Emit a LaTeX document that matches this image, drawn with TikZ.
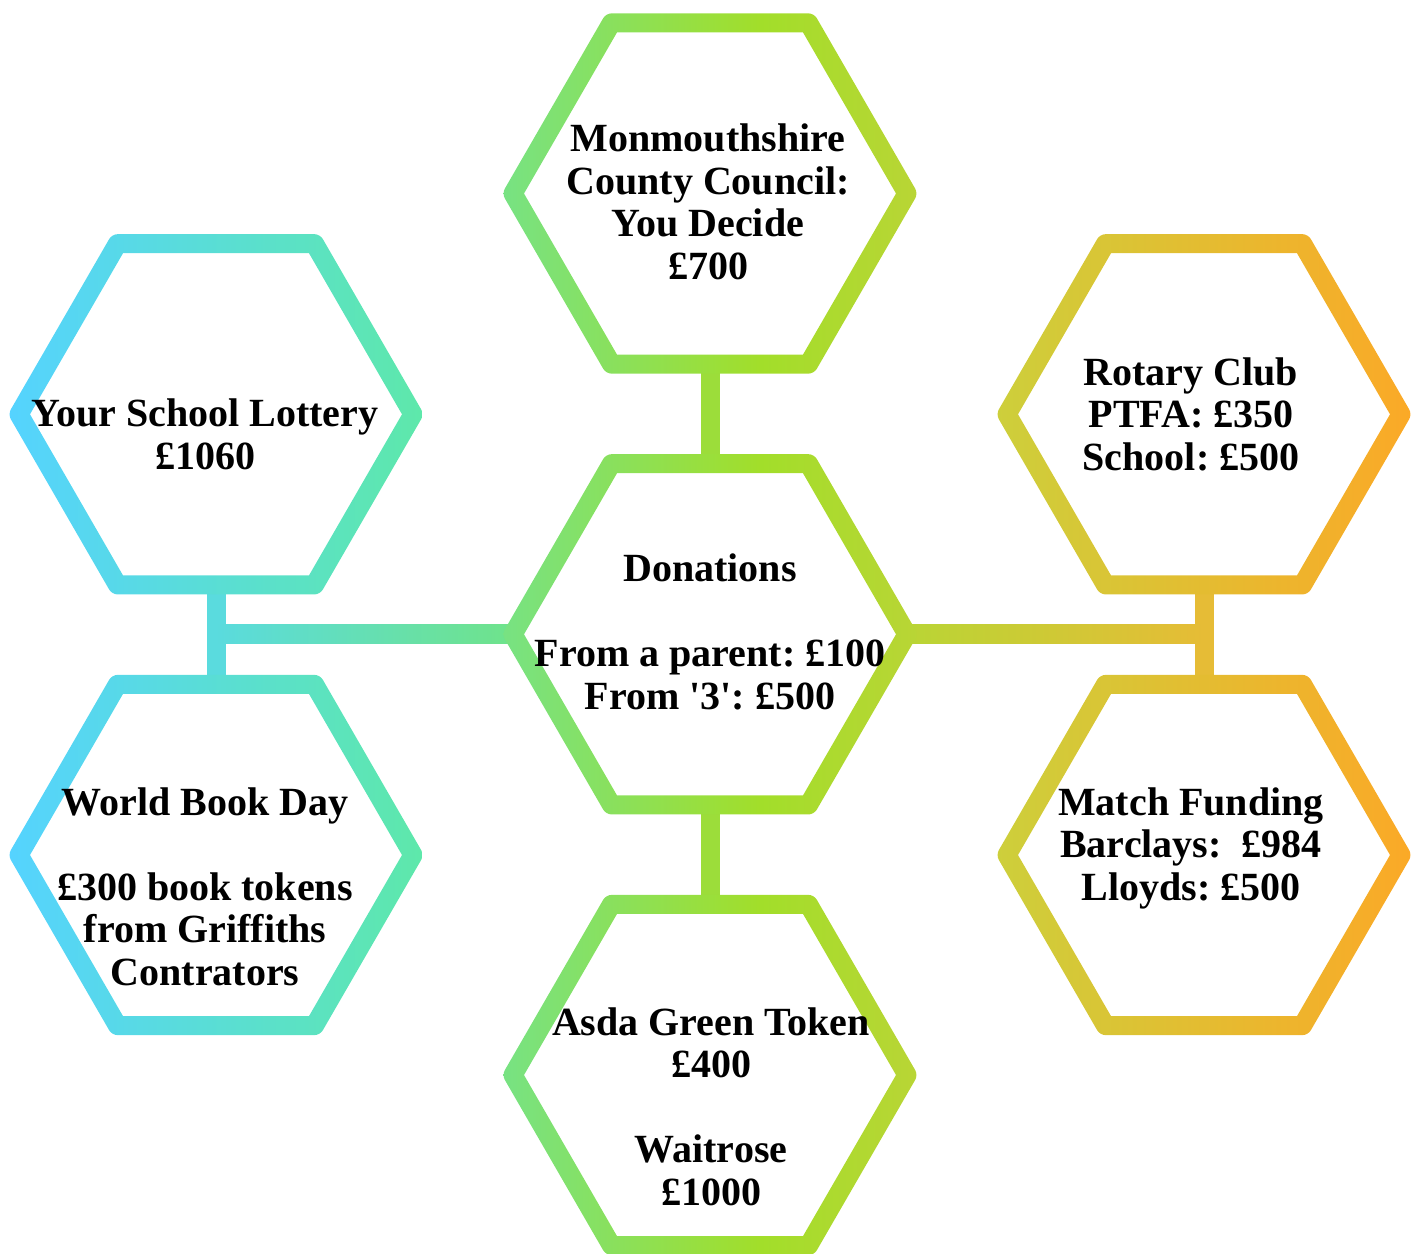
\documentclass[tikz,border=0pt]{standalone}
\usepackage{fontspec}
\setmainfont{Liberation Serif}
\usetikzlibrary{shapes.geometric,calc}

\definecolor{skyL}{HTML}{55D3FF}
\definecolor{skyR}{HTML}{5EE8AA}
\definecolor{skyLink}{HTML}{5ADBDE}
\definecolor{skyEnd}{HTML}{6FE38A}
\definecolor{limeL}{HTML}{77E283}
\definecolor{limeM}{HTML}{A2DE2A}
\definecolor{limeR}{HTML}{B9D535}
\definecolor{limeLink}{HTML}{9CDD3A}
\definecolor{amberL}{HTML}{CDCF3B}
\definecolor{amberR}{HTML}{FBA927}
\definecolor{amberLink}{HTML}{E6BC36}

\pgfdeclarehorizontalshading{limeshade}{100bp}{color(0bp)=(limeL); color(25bp)=(limeL); color(56bp)=(limeM); color(75bp)=(limeR); color(100bp)=(limeR)}

\def\Rout{208}
\def\Rin{186}
\newcommand\hexring[2]{%
  \shade[#2, even odd rule]
    [rounded corners=5.5pt] ($(#1)+(90:{\Rout*0.866})$) \foreach \a in {120,180,...,420}{ -- ($(#1)+(\a:\Rout)$)} -- cycle
    [sharp corners] ($(#1)+(0:\Rin)$) \foreach \a in {60,120,...,300}{ -- ($(#1)+(\a:\Rin)$)} -- cycle;
}

\tikzset{
  hexbox/.style={regular polygon, regular polygon sides=6, minimum size=394pt, inner sep=0pt, outer sep=0pt},
  hexlabel/.style={align=center, anchor=base, inner sep=0pt, font=\bfseries\fontsize{40}{42.5}\selectfont\frenchspacing},
  link/.style={line width=19pt}
}

\begin{document}
\begin{tikzpicture}[x=1pt, y=-1pt]
\useasboundingbox (0,0) rectangle (1420,1253);

\node[hexbox] (council) at (710,193.5) {};
\node[hexbox] (hub) at (710,634.3) {};
\node[hexbox] (asda) at (710,1075) {};
\node[hexbox] (lottery) at (216,414.3) {};
\node[hexbox] (book) at (216,855) {};
\node[hexbox] (rotary) at (1204,414.3) {};
\node[hexbox] (match) at (1204,855) {};

\draw[link, draw=limeLink] (council.south) -- (hub.north);
\draw[link, draw=limeLink] (hub.south) -- (asda.north);
\draw[link, draw=skyLink] (lottery.south) -- (book.north);
\draw[link, draw=amberLink] (rotary.south) -- (match.north);
\shade[left color=skyLink, right color=skyEnd] ($(lottery.south |- hub.west)+(0,-9.5)$) rectangle ($(hub.west)+(0,9.5)$);
\shade[left color=limeR, right color=amberLink] ($(hub.east)+(0,-9.5)$) rectangle ($(rotary.south |- hub.east)+(0,9.5)$);

\hexring{council}{shading=limeshade}
\hexring{hub}{shading=limeshade}
\hexring{asda}{shading=limeshade}
\hexring{lottery}{left color=skyL, right color=skyR}
\hexring{book}{left color=skyL, right color=skyR}
\hexring{rotary}{left color=amberL, right color=amberR}
\hexring{match}{left color=amberL, right color=amberR}

\node[hexlabel] (councilText) at ($(council)+(-2,85.5)$) {Monmouthshire\\County Council:\\You Decide\\£700};
\node[hexlabel] (hubText) at ($(hub)+(0,75)$) {Donations\\[42.5pt]From a parent: £100\\From \textquotesingle3\textquotesingle: £500};
\node[hexlabel] (asdaText) at ($(asda)+(1,130)$) {Asda Green Token\\£400\\[42.5pt]Waitrose\\£1000};
\node[hexlabel] (lotteryText) at ($(lottery)+(-11,55)$) {Your School Lottery\\£1060};
\node[hexlabel] (bookText) at ($(book)+(-11,130)$) {World Book Day\\[42.5pt]£300 book tokens\\from Griffiths\\Contrators};
\node[hexlabel] (rotaryText) at ($(rotary)+(-13,55.7)$) {Rotary Club\\PTFA: £350\\School: £500};
\node[hexlabel] (matchText) at ($(match)+(-13,45)$) {Match Funding\\Barclays:~~£984\\Lloyds: £500};
\end{tikzpicture}
\end{document}
